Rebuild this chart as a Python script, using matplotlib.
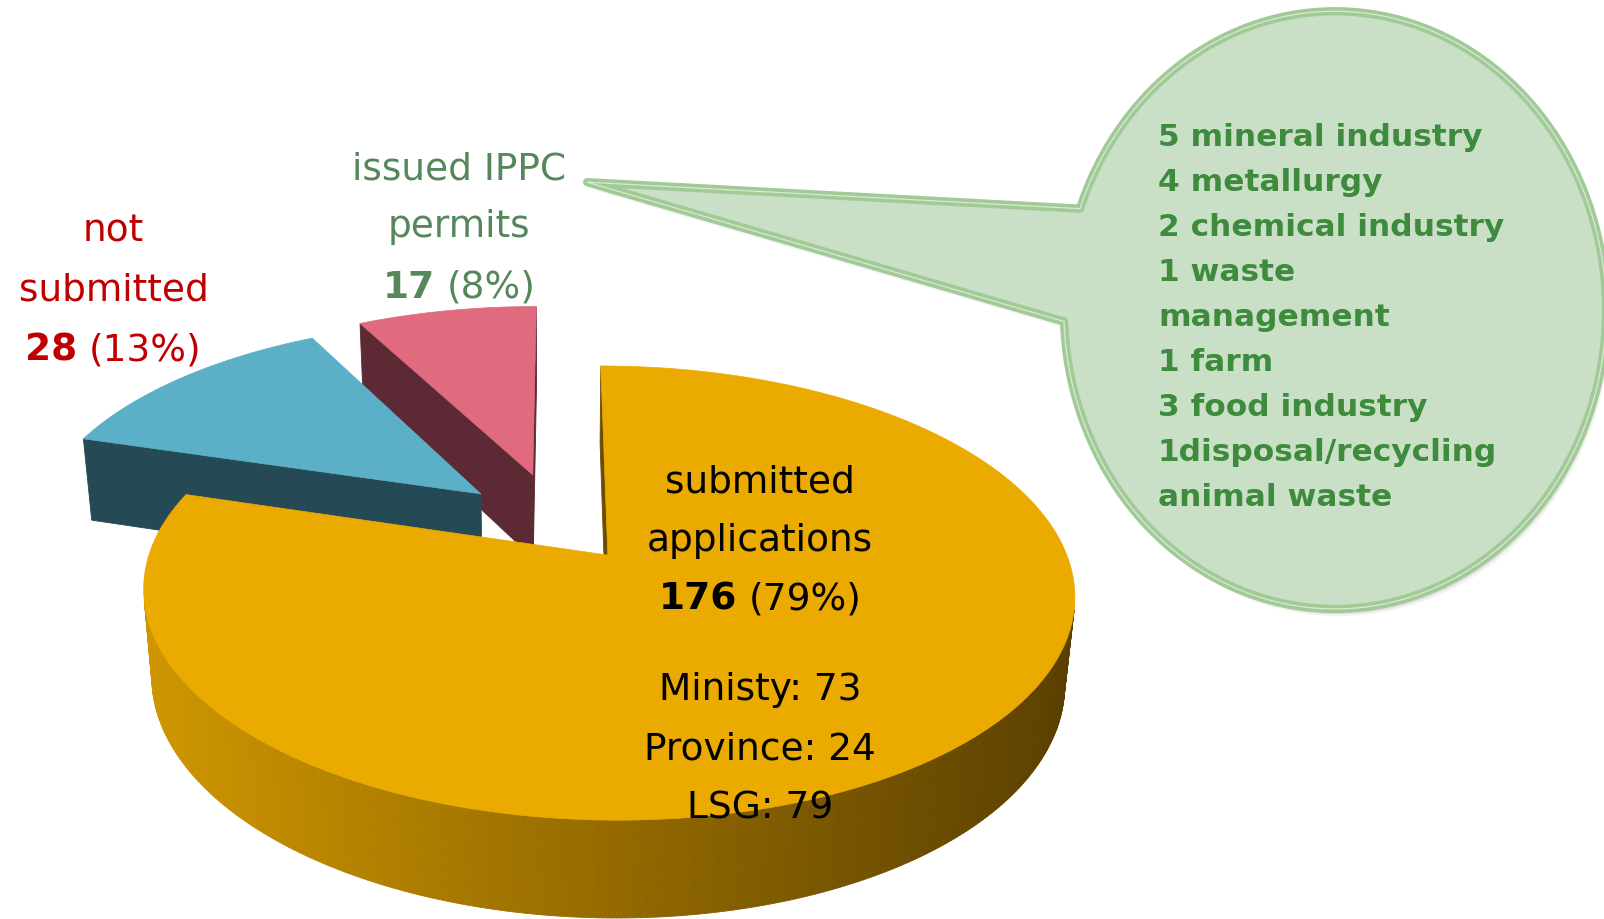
import numpy as np
import matplotlib
matplotlib.use("Agg")
import matplotlib.pyplot as plt
from matplotlib.patches import Polygon

# ---------------- data ----------------
categories = ["submitted applications", "not submitted", "issued IPPC permits"]
values = [176, 28, 17]
pct_labels = ["79%", "13%", "8%"]
breakdown_names = ["Ministy", "Province", "LSG"]
breakdown_values = [73, 24, 79]
bubble_lines = ["5 mineral industry", "4 metallurgy", "2 chemical industry",
                "1 waste", "management", "1 farm", "3 food industry",
                "1disposal/recycling", "animal waste"]

# ---------------- style ----------------
explode = [0.18, 0.23, 0.25]
top_colors = ["#EBAA00", "#5BB0C7", "#E06A7E"]
side_colors = ["#6B4C00", "#264A55", "#5C2934"]
wall_light = np.array([207, 150, 0]) / 255
wall_dark = np.array([90, 63, 0]) / 255

W, Hh = 1568, 899
fig = plt.figure(figsize=(16.04, 9.20), dpi=100)
ax = fig.add_axes([0, 0, 1, 1])
ax.set_xlim(0, W)
ax.set_ylim(Hh, 0)
ax.axis("off")

# perspective camera
phi = np.radians(28)
cph, sph = np.cos(phi), np.sin(phi)
Dist = 5.41
Sc = 2370
CX, CY = 546, 513
TH = 0.22
cam = np.array([0.0, -Dist * cph, Dist * sph])


def proj(P):
    P = np.atleast_2d(P)
    X, Y, Z = P[:, 0], P[:, 1], P[:, 2]
    depth = Dist + Y * cph - Z * sph
    return np.column_stack([CX + Sc * X / depth, CY - Sc * (Y * sph + Z * cph) / depth])


def depth_of(P):
    P = np.atleast_2d(P)
    return np.mean(Dist + P[:, 1] * cph - P[:, 2] * sph)


total = float(sum(values))
start = 90.0
slices = []
for i, v in enumerate(values):
    sweep = 360.0 * v / total
    a0, a1 = start, start - sweep
    start = a1
    mid = np.radians((a0 + a1) / 2)
    E = explode[i] * np.array([np.cos(mid), np.sin(mid)])
    n = max(int(sweep * 2), 10)
    th = np.radians(np.linspace(a1, a0, n))
    arc = np.column_stack([E[0] + np.cos(th), E[1] + np.sin(th)])
    faces = []
    # outer wall
    for k in range(n - 1):
        p = np.array([[arc[k, 0], arc[k, 1], 0], [arc[k + 1, 0], arc[k + 1, 1], 0],
                      [arc[k + 1, 0], arc[k + 1, 1], -TH], [arc[k, 0], arc[k, 1], -TH]])
        tm = (th[k] + th[k + 1]) / 2
        nrm = np.array([np.cos(tm), np.sin(tm), 0])
        faces.append((p, nrm, "wall"))
    # radial faces
    for ang, sgn in ((a0, 1), (a1, -1)):
        r = np.radians(ang)
        d = np.array([np.cos(r), np.sin(r)])
        p = np.array([[E[0], E[1], 0], [E[0] + d[0], E[1] + d[1], 0],
                      [E[0] + d[0], E[1] + d[1], -TH], [E[0], E[1], -TH]])
        nr = r + sgn * np.pi / 2
        faces.append((p, np.array([np.cos(nr), np.sin(nr), 0]), "radial"))
    top = np.vstack([[E[0], E[1], 0], np.column_stack([arc, np.zeros(n)])])
    slices.append(dict(i=i, E=E, faces=faces, top=top))

# draw far slices first
order = sorted(slices, key=lambda s: -s["E"][1])
for sl in order:
    i = sl["i"]
    vis = []
    for p, nrm, kind in sl["faces"]:
        cen = p.mean(axis=0)
        if np.dot(nrm, cam - cen) > 0:
            vis.append((p, kind))
    sxs = [proj(p)[:, 0].mean() for p, k in vis if k == "wall"]
    xl, xr = (min(sxs), max(sxs)) if sxs else (0, 1)
    vis.sort(key=lambda f: -depth_of(f[0]))
    for p, kind in vis:
        pts = proj(p)
        if kind == "wall" and i == 0:
            t = (pts[:, 0].mean() - xl) / max(xr - xl, 1)
            col = wall_light * (1 - t) + wall_dark * t
        else:
            col = side_colors[i]
        ax.add_patch(Polygon(pts, closed=True, facecolor=col, edgecolor=col, lw=0.6, zorder=2))
    pts = proj(sl["top"])
    ax.add_patch(Polygon(pts, closed=True, facecolor=top_colors[i], edgecolor=top_colors[i],
                         lw=0.5, zorder=3))

# ---------------- callout bubble ----------------
bcx, bcy, brx, bry = 1305, 304, 265, 292
tip = (574, 179)
up_att = (1061, 207)
lo_att = (1044, 315)
ta = np.degrees(np.arctan2(-(up_att[1] - bcy) / bry, (up_att[0] - bcx) / brx)) % 360
tb = np.degrees(np.arctan2(-(lo_att[1] - bcy) / bry, (lo_att[0] - bcx) / brx)) % 360
angs = np.radians(np.linspace(tb, ta + 360, 300))
bpts = np.column_stack([bcx + brx * np.cos(angs), bcy - bry * np.sin(angs)])
bpts = np.vstack([bpts, [tip]])
for k, a in enumerate([0.10, 0.07, 0.05]):
    off = 3 + 2 * k
    ax.add_patch(Polygon(bpts + np.array([off * 0.6, off]), closed=True, facecolor="#000000",
                         edgecolor="none", alpha=a, zorder=4))
ax.add_patch(Polygon(bpts, closed=True, facecolor="#C9E0C7", edgecolor="#A1CA97",
                     lw=6, joinstyle="round", zorder=5))
ax.add_patch(Polygon(bpts, closed=True, facecolor="none", edgecolor="#D6EAD2",
                     lw=0.9, joinstyle="round", zorder=6))

FONT = "DejaVu Sans"
bx0, by0, bdy = 1132, 143, 43.9
for k, line in enumerate(bubble_lines):
    ax.text(bx0, by0 + k * bdy, line, fontsize=22.5, fontweight="bold", color="#3E8B3E",
            family=FONT, ha="left", va="baseline", zorder=7)

# ---------------- labels ----------------
renderer = fig.canvas.get_renderer()
xscale = W / 1604.0


def mixed_line(xc, yb, parts, color, size):
    txts = []
    for t, w in parts:
        txts.append(ax.text(0, yb, t, fontsize=size, fontweight=w, color=color,
                            family=FONT, ha="left", va="baseline", zorder=8))
    widths = [tx.get_window_extent(renderer).width * xscale for tx in txts]
    gap = 0.30 * size * 100 / 72 * xscale
    tot = sum(widths) + gap * (len(txts) - 1)
    x = xc - tot / 2
    for tx, w in zip(txts, widths):
        tx.set_x(x)
        x += w + gap


LS = 27
red, green = "#C00000", "#55875A"
# not submitted
ax.text(111, 236, "not", fontsize=LS, color=red, family=FONT, ha="center", va="baseline", zorder=8)
ax.text(111, 294, "submitted", fontsize=LS, color=red, family=FONT, ha="center", va="baseline", zorder=8)
mixed_line(111, 352, [(str(values[1]), "bold"), ("(" + pct_labels[1] + ")", "normal")], red, LS)
# issued permits
ax.text(449, 175, "issued IPPC", fontsize=LS, color=green, family=FONT, ha="center", va="baseline", zorder=8)
ax.text(449, 232, "permits", fontsize=LS, color=green, family=FONT, ha="center", va="baseline", zorder=8)
mixed_line(449, 291, [(str(values[2]), "bold"), ("(" + pct_labels[2] + ")", "normal")], green, LS)
# submitted
ax.text(743, 481, "submitted", fontsize=LS, color="black", family=FONT, ha="center", va="baseline", zorder=8)
ax.text(743, 538, "applications", fontsize=LS, color="black", family=FONT, ha="center", va="baseline", zorder=8)
mixed_line(743, 596, [(str(values[0]), "bold"), ("(" + pct_labels[0] + ")", "normal")], "black", LS)
for k, (nm, vv) in enumerate(zip(breakdown_names, breakdown_values)):
    ax.text(743, 684 + k * 58, f"{nm}: {vv}", fontsize=LS, color="black", family=FONT,
            ha="center", va="baseline", zorder=8)

fig.savefig("out.png", dpi=100, facecolor="white")
